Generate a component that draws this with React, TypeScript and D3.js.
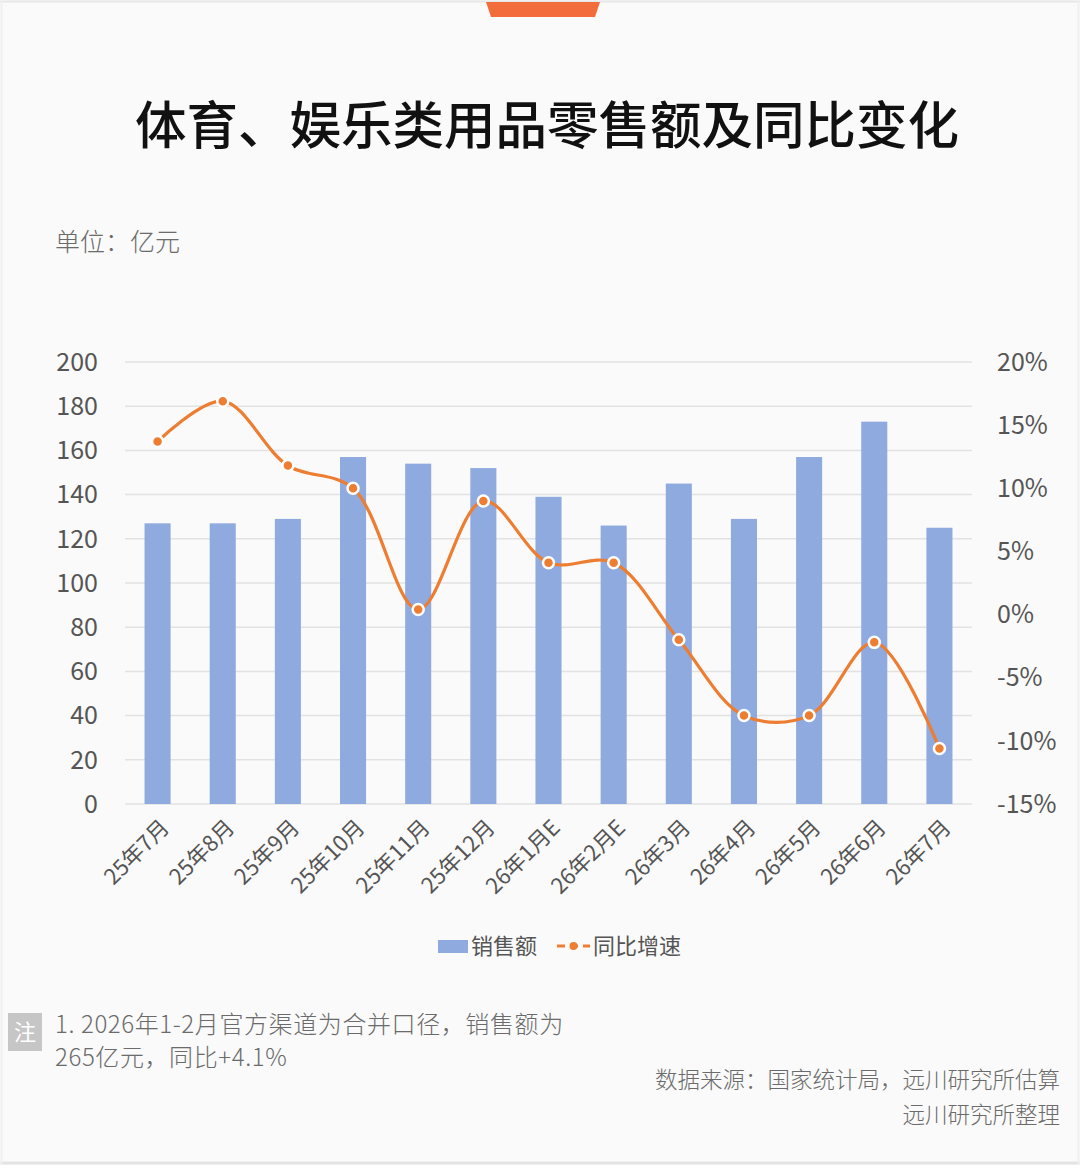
import * as d3 from 'd3';

const months = ['25年7月', '25年8月', '25年9月', '25年10月', '25年11月', '25年12月', '26年1月E', '26年2月E', '26年3月', '26年4月', '26年5月', '26年6月', '26年7月'];
const sales = [127, 127, 129, 157, 154, 152, 139, 126, 145, 129, 157, 173, 125];
const growth = [13.7, 16.9, 11.8, 10.0, 0.4, 9.0, 4.1, 4.1, -2.0, -8.0, -8.0, -2.2, -10.6];
const leftTicks = [0, 20, 40, 60, 80, 100, 120, 140, 160, 180, 200];
const rightTicks = [-15, -10, -5, 0, 5, 10, 15, 20];
const noteLines = ['1. 2026年1-2月官方渠道为合并口径，销售额为', '265亿元，同比+4.1%'];
const sourceLines = ['数据来源：国家统计局，远川研究所估算', '远川研究所整理'];

const W = 1080;
const H = 1165;
const font = '"Noto Sans CJK SC", "Noto Sans", sans-serif';
const barColor = '#8eaadf';
const lineColor = '#ed7d31';

export default function App() {
    const plot = { left: 125, right: 972, top: 362, bottom: 804 };

    const x = d3.scaleBand<string>()
        .domain(months)
        .range([plot.left, plot.right])
        .paddingInner(0.6)
        .paddingOuter(0.3);

    const yLeft = d3.scaleLinear().domain([0, 200]).range([plot.bottom, plot.top]);
    const yRight = d3.scaleLinear().domain([-15, 20]).range([plot.bottom, plot.top]);

    const cx = (m: string) => (x(m) ?? 0) + x.bandwidth() / 2;

    const line = d3.line<number>()
        .x((_, i) => cx(months[i]))
        .y(d => yRight(d))
        .curve(d3.curveCatmullRom.alpha(0.5));

    return (
        <svg width={W} height={H} style={{ position: 'absolute', left: 0, top: 0, display: 'block' }}
            fontFamily={font}>
            <rect x={0} y={0} width={W} height={H} fill="#fafafa" />
            <line x1={0} x2={W} y1={1.5} y2={1.5} stroke="#e6e6e6" strokeWidth={2} />
            <line x1={0} x2={W} y1={1163} y2={1163} stroke="#e3e3e3" strokeWidth={3} />
            <line x1={1.5} x2={1.5} y1={0} y2={H} stroke="#efefef" strokeWidth={2} />
            <line x1={W - 1.5} x2={W - 1.5} y1={0} y2={H} stroke="#efefef" strokeWidth={2} />
            <path d="M486,2 L600,2 L595,17 L491,17 Z" fill="#f26d3b" />

            <text x={547} y={144} textAnchor="middle" fontSize={51.5} fontWeight={500} fill="#111">
                体育、娱乐类用品零售额及同比变化
            </text>
            <text x={55} y={251} fontSize={25} fontWeight={300} fill="#6b6b6b">单位：亿元</text>

            {/* grid */}
            {leftTicks.map(t => (
                <line key={'g' + t} x1={plot.left} x2={plot.right} y1={yLeft(t)} y2={yLeft(t)}
                    stroke="#e2e2e2" strokeWidth={1.5} />
            ))}

            {/* bars */}
            {sales.map((v, i) => (
                <rect key={'b' + i} x={x(months[i])} y={yLeft(v)} width={x.bandwidth()}
                    height={yLeft(0) - yLeft(v)} fill={barColor} />
            ))}

            {/* line */}
            <path d={line(growth) ?? ''} fill="none" stroke={lineColor} strokeWidth={3.2} />
            {growth.map((v, i) => (
                <circle key={'c' + i} cx={cx(months[i])} cy={yRight(v)} r={5.5}
                    fill={lineColor} stroke="#fff" strokeWidth={2.5} />
            ))}

            {/* left axis */}
            {leftTicks.map(t => (
                <text key={'l' + t} x={98} y={yLeft(t)} dy="0.35em" textAnchor="end"
                    fontSize={25} fill="#555">{t}</text>
            ))}
            {/* right axis */}
            {rightTicks.map(t => (
                <text key={'r' + t} x={997} y={yRight(t)} dy="0.35em" textAnchor="start"
                    fontSize={25} fill="#555">{t + '%'}</text>
            ))}

            {/* x labels */}
            {months.map(m => (
                <text key={'x' + m} transform={`translate(${cx(m) + 13},${plot.bottom + 25}) rotate(-45)`}
                    textAnchor="end" fontSize={22} fill="#555">{m}</text>
            ))}

            {/* legend */}
            <rect x={438} y={940} width={30} height={13} fill={barColor} />
            <text x={471} y={946} dy="0.35em" fontSize={22} fill="#555">销售额</text>
            <line x1={557} x2={590} y1={946} y2={946} stroke={lineColor} strokeWidth={3} strokeDasharray="8,5" />
            <circle cx={573.5} cy={946} r={4} fill={lineColor} />
            <text x={593} y={946} dy="0.35em" fontSize={22} fill="#555">同比增速</text>

            {/* note */}
            <rect x={8} y={1013} width={34} height={38} fill="#c6c6c6" />
            <text x={25} y={1032} dy="0.35em" textAnchor="middle" fontSize={22} fill="#fff">注</text>
            {noteLines.map((s, i) => (
                <text key={'n' + i} x={55} y={1025 + i * 33} dy="0.35em" fontSize={24} fontWeight={300}
                    letterSpacing={0.6} fill="#6b6b6b">{s}</text>
            ))}
            {sourceLines.map((s, i) => (
                <text key={'s' + i} x={1060} y={1080 + i * 35} dy="0.35em" textAnchor="end" fontSize={22.5} fontWeight={300} fill="#6b6b6b">{s}</text>
            ))}
        </svg>
    );
}
